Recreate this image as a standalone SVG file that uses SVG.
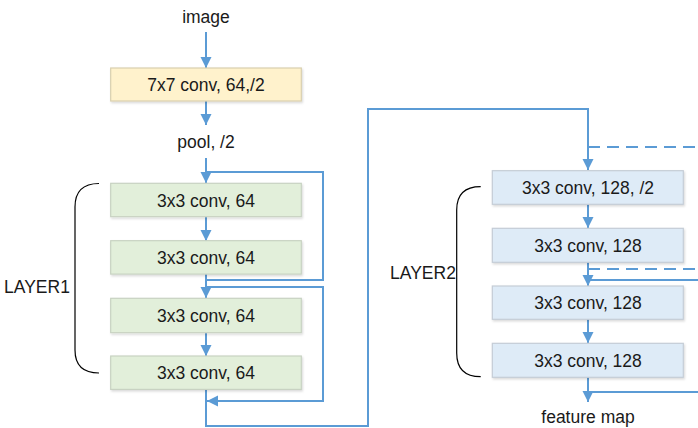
<svg xmlns="http://www.w3.org/2000/svg" width="698" height="428" viewBox="0 0 698 428">
<style>
text{font-family:"Liberation Sans",Arial,sans-serif;font-size:17.5px;fill:#1a1a1a;text-anchor:middle}
.box rect{stroke-width:1.2}
.y rect{fill:#FFF2CC;stroke:#D9CFAE}
.g rect{fill:#E2EFDA;stroke:#C8D2C2}
.b rect{fill:#DEEBF7;stroke:#C5CDD6}
.c{fill:none;stroke:#5B9BD5;stroke-width:2}
.d{stroke-dasharray:12 7}
.br{fill:none;stroke:#000;stroke-width:1.2}
</style>
<defs>
<marker id="ah" markerUnits="userSpaceOnUse" markerWidth="12" markerHeight="12" refX="11" refY="6" orient="auto">
<path d="M0,0.5 L11,6 L0,11.5 z" fill="#5B9BD5"/>
</marker>
<filter id="sh" x="-5%" y="-10%" width="112%" height="130%">
<feDropShadow dx="1" dy="1.5" stdDeviation="1" flood-color="#000" flood-opacity="0.15"/>
</filter>
</defs>

<g id="connectors">
<line class="c" x1="206" y1="32" x2="206" y2="68" marker-end="url(#ah)"/>
<line class="c" x1="206" y1="101" x2="206" y2="125" marker-end="url(#ah)"/>
<line class="c" x1="206" y1="158" x2="206" y2="183" marker-end="url(#ah)"/>
<polyline class="c" points="206,172 323,172 323,280 206,280"/>
<line class="c" x1="206" y1="217" x2="206" y2="241" marker-end="url(#ah)"/>
<line class="c" x1="206" y1="274" x2="206" y2="298" marker-end="url(#ah)"/>
<polyline class="c" points="206,287 323,287 323,401 207,401" marker-end="url(#ah)"/>
<line class="c" x1="206" y1="333" x2="206" y2="356" marker-end="url(#ah)"/>
<polyline class="c" points="206,389 206,426 368,426 368,109 588,109 588,170" marker-end="url(#ah)"/>
<line class="c d" x1="588" y1="147" x2="698" y2="147"/>
<line class="c" x1="588" y1="204" x2="588" y2="228" marker-end="url(#ah)"/>
<line class="c" x1="588" y1="262" x2="588" y2="286" marker-end="url(#ah)"/>
<line class="c d" x1="588" y1="269" x2="698" y2="269"/>
<line class="c" x1="588" y1="280" x2="698" y2="280"/>
<line class="c" x1="588" y1="319" x2="588" y2="343" marker-end="url(#ah)"/>
<line class="c" x1="588" y1="377" x2="588" y2="402" marker-end="url(#ah)"/>
<line class="c" x1="588" y1="392" x2="698" y2="392"/>
</g>

<g id="label-image"><text x="206" y="23">image</text></g>
<g id="conv7" class="box y"><rect x="110.7" y="68" width="190.6" height="33" filter="url(#sh)"/><text x="206" y="90.5">7x7 conv, 64,/2</text></g>
<g id="label-pool"><text x="206" y="148">pool, /2</text></g>

<g id="l1b1" class="box g"><rect x="110.7" y="183.3" width="190.6" height="33.4" filter="url(#sh)"/><text x="206" y="206.5">3x3 conv, 64</text></g>
<g id="l1b2" class="box g"><rect x="110.7" y="240.7" width="190.6" height="33.4" filter="url(#sh)"/><text x="206" y="264">3x3 conv, 64</text></g>
<g id="l1b3" class="box g"><rect x="110.7" y="298.3" width="190.6" height="34.4" filter="url(#sh)"/><text x="206" y="322">3x3 conv, 64</text></g>
<g id="l1b4" class="box g"><rect x="110.7" y="356" width="190.6" height="33.4" filter="url(#sh)"/><text x="206" y="379">3x3 conv, 64</text></g>

<g id="layer1"><path class="br" d="M99,183.5 Q75,183.5 75,207 L75,350 Q75,373 99,373"/><text x="37" y="293">LAYER1</text></g>

<g id="l2b1" class="box b"><rect x="492.3" y="170.7" width="191" height="33.6" filter="url(#sh)"/><text x="588" y="194">3x3 conv, 128, /2</text></g>
<g id="l2b2" class="box b"><rect x="492.3" y="228.3" width="191" height="34" filter="url(#sh)"/><text x="588" y="252">3x3 conv, 128</text></g>
<g id="l2b3" class="box b"><rect x="492.3" y="286" width="191" height="33.3" filter="url(#sh)"/><text x="588" y="309">3x3 conv, 128</text></g>
<g id="l2b4" class="box b"><rect x="492.3" y="343.3" width="191" height="34" filter="url(#sh)"/><text x="588" y="366.5">3x3 conv, 128</text></g>

<g id="layer2"><path class="br" d="M480.7,186.7 Q456.7,186.7 456.7,210 L456.7,353 Q456.7,376.7 480.7,376.7"/><text x="423" y="279">LAYER2</text></g>

<g id="label-feature"><text x="588" y="423">feature map</text></g>
</svg>
